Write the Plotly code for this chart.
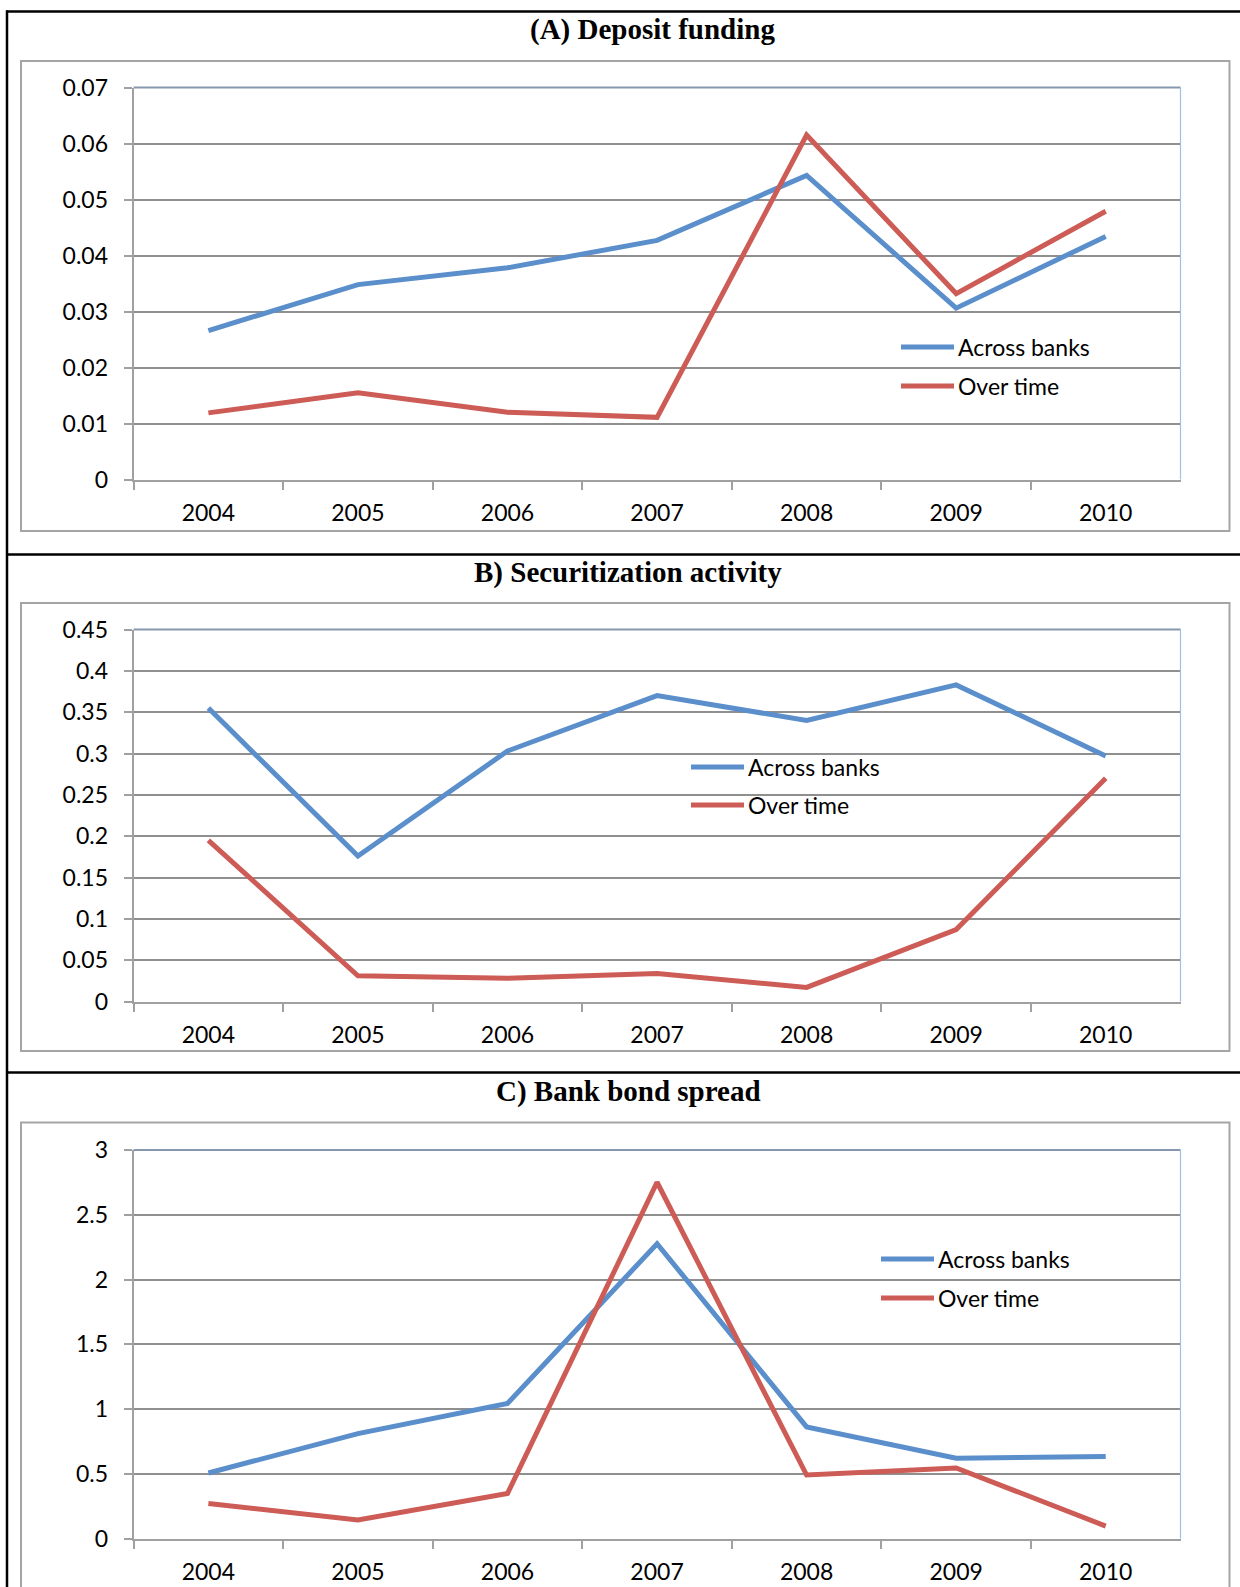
import plotly.graph_objects as go

W, H = 1240, 1587

years = ["2004", "2005", "2006", "2007", "2008", "2009", "2010"]

titles = ["(A) Deposit funding", "B) Securitization activity", "C) Bank bond spread"]
series_names = ["Across banks", "Over time"]

# Panel A: Deposit funding
a_across = [0.0266, 0.0348, 0.0378, 0.0427, 0.0543, 0.0306, 0.0434]
a_over = [0.0119, 0.0155, 0.0120, 0.0111, 0.0615, 0.0332, 0.0479]
a_ticks = [0, 0.01, 0.02, 0.03, 0.04, 0.05, 0.06, 0.07]
a_ticktext = ["0", "0.01", "0.02", "0.03", "0.04", "0.05", "0.06", "0.07"]

# Panel B: Securitization activity
b_across = [0.355, 0.176, 0.303, 0.370, 0.340, 0.383, 0.297]
b_over = [0.195, 0.031, 0.028, 0.034, 0.017, 0.087, 0.270]
b_ticks = [0, 0.05, 0.1, 0.15, 0.2, 0.25, 0.3, 0.35, 0.4, 0.45]
b_ticktext = ["0", "0.05", "0.1", "0.15", "0.2", "0.25", "0.3", "0.35", "0.4", "0.45"]

# Panel C: Bank bond spread
c_across = [0.506, 0.810, 1.043, 2.276, 0.862, 0.620, 0.633]
c_over = [0.270, 0.143, 0.347, 2.751, 0.490, 0.545, 0.096]
c_ticks = [0, 0.5, 1, 1.5, 2, 2.5, 3]
c_ticktext = ["0", "0.5", "1", "1.5", "2", "2.5", "3"]

BLUE = "#5A8FCB"
RED = "#CD5B56"
GRID = "#8f8f8f"
AXIS = "#a0a0a0"
TICKFONT = dict(family="Lato, 'Open Sans', sans-serif", size=23, color="#000000")
TITLEFONT = dict(family="'Liberation Serif', 'Times New Roman', serif", size=29, color="#000000")
LW = 5


def X(px):
    return px / W


def Y(py):
    return 1 - py / H


# layout geometry (pixels)
plot_left, plot_right = 133.6, 1180.5
panels = [
    dict(top=87.5, bottom=479.5, box=(61, 531), title_x=652, title_y=30,
         leg_x=901, leg_y=(347, 386), ticks=a_ticks, text=a_ticktext,
         across=a_across, over=a_over),
    dict(top=629.5, bottom=1001.5, box=(603, 1051), title_x=628, title_y=572,
         leg_x=691, leg_y=(767, 805), ticks=b_ticks, text=b_ticktext,
         across=b_across, over=b_over),
    dict(top=1150.0, bottom=1538.5, box=(1122.5, 1620), title_x=628, title_y=1091,
         leg_x=881, leg_y=(1259, 1298), ticks=c_ticks, text=c_ticktext,
         across=c_across, over=c_over),
]

fig = go.Figure()
shapes = []
annotations = []

for i, p in enumerate(panels):
    n = "" if i == 0 else str(i + 1)
    xa, ya = "x" + n, "y" + n
    fig.add_trace(go.Scatter(x=years, y=p["across"], mode="lines", name=series_names[0],
                             line=dict(color=BLUE, width=LW), xaxis=xa, yaxis=ya,
                             showlegend=False))
    fig.add_trace(go.Scatter(x=years, y=p["over"], mode="lines", name=series_names[1],
                             line=dict(color=RED, width=LW), xaxis=xa, yaxis=ya,
                             showlegend=False))
    fig.update_layout(**{
        "xaxis" + n: dict(
            domain=[X(plot_left), X(plot_right)], anchor=ya, type="category",
            categoryorder="array", categoryarray=years, range=[-0.5, 6.5],
            tickson="boundaries", ticks="outside", ticklen=8, tickwidth=2,
            tickcolor=AXIS, showgrid=False, showline=True, linecolor=AXIS,
            linewidth=2, tickfont=TICKFONT, ticklabelstandoff=12, fixedrange=True,
            automargin=False),
        "yaxis" + n: dict(
            domain=[Y(p["bottom"]), Y(p["top"])], anchor=xa,
            range=[p["ticks"][0], p["ticks"][-1]], tickvals=p["ticks"],
            ticktext=p["text"], ticks="outside", ticklen=8, tickwidth=2,
            tickcolor=AXIS, showgrid=True, gridcolor=GRID, gridwidth=1.5,
            zeroline=False, showline=True, linecolor=AXIS, linewidth=2,
            tickfont=TICKFONT, ticklabelstandoff=11, fixedrange=True,
            automargin=False),
    })
    # chart area box
    shapes.append(dict(type="rect", xref="paper", yref="paper",
                       x0=X(21), x1=X(1229.5), y0=Y(p["box"][1]), y1=Y(p["box"][0]),
                       line=dict(color="#a5a5a5", width=2), layer="below"))
    # plot area top & right border
    shapes.append(dict(type="line", xref="paper", yref="paper",
                       x0=X(plot_left), x1=X(plot_right), y0=Y(p["top"]), y1=Y(p["top"]),
                       line=dict(color="#8598ad", width=2)))
    shapes.append(dict(type="line", xref="paper", yref="paper",
                       x0=X(plot_right), x1=X(plot_right), y0=Y(p["top"]), y1=Y(p["bottom"]),
                       line=dict(color="#9cc2e8", width=1.2)))
    # title
    annotations.append(dict(text="<b>" + titles[i] + "</b>", xref="paper", yref="paper",
                            x=X(p["title_x"]), y=Y(p["title_y"]), xanchor="center",
                            yanchor="middle", showarrow=False, font=TITLEFONT))
    # legend
    for name, color, ly in zip(series_names, [BLUE, RED], p["leg_y"]):
        shapes.append(dict(type="line", xref="paper", yref="paper",
                           x0=X(p["leg_x"]), x1=X(p["leg_x"] + 53), y0=Y(ly), y1=Y(ly),
                           line=dict(color=color, width=LW)))
        annotations.append(dict(text=name, xref="paper", yref="paper",
                                x=X(p["leg_x"] + 55), y=Y(ly), xanchor="left",
                                yanchor="middle", showarrow=False, font=TICKFONT))

# black outer frame and dividers
for sy in [11.5, 554.5, 1072.5]:
    shapes.append(dict(type="line", xref="paper", yref="paper",
                       x0=X(6), x1=X(1240), y0=Y(sy), y1=Y(sy),
                       line=dict(color="#000000", width=2.5)))
shapes.append(dict(type="line", xref="paper", yref="paper",
                   x0=X(7), x1=X(7), y0=Y(10.5), y1=Y(1587),
                   line=dict(color="#000000", width=2.5)))

fig.update_layout(width=W, height=H,
                  margin=dict(l=0, r=0, t=0, b=0, pad=0, autoexpand=False),
                  paper_bgcolor="white", plot_bgcolor="white",
                  shapes=shapes, annotations=annotations, showlegend=False)

fig.write_html("out.html", config={"displayModeBar": False},
               post_script="document.body.style.margin='0';")
